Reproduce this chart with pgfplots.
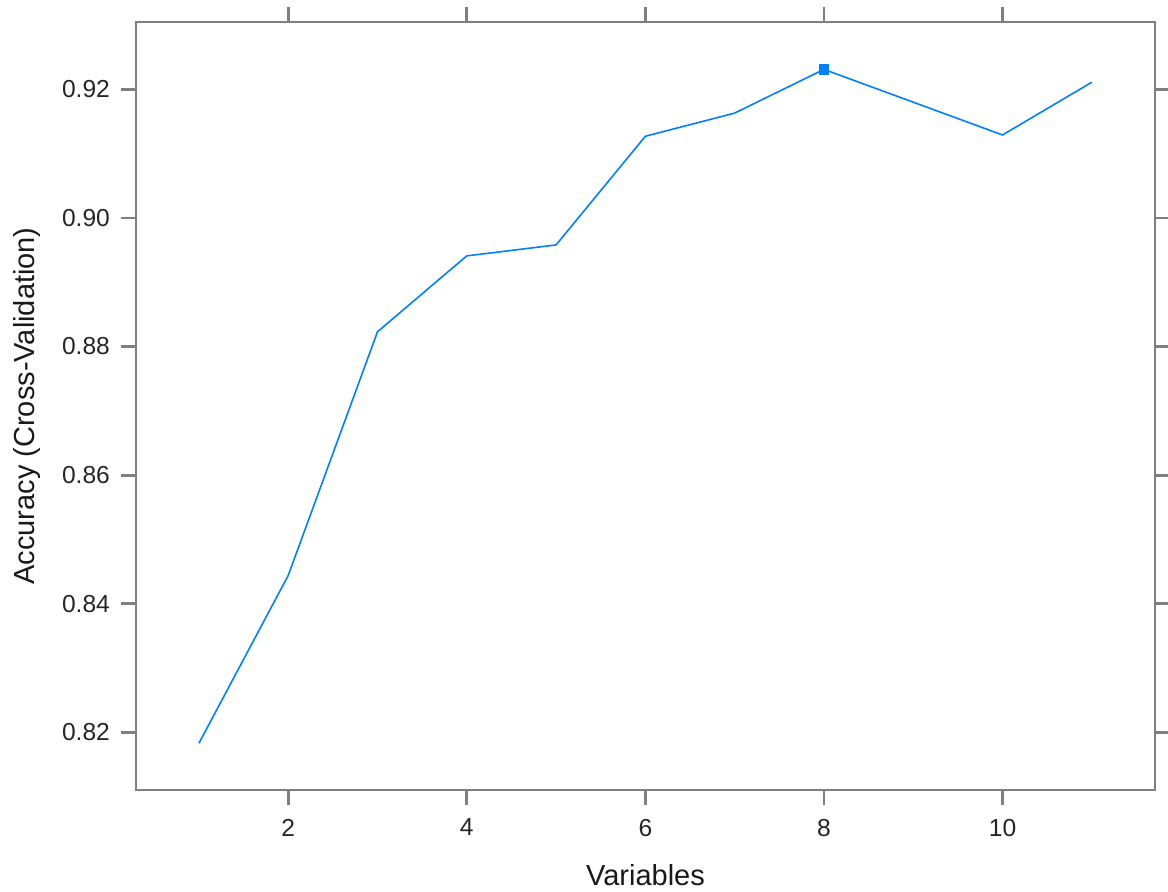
\documentclass[border=0pt]{standalone}
\usepackage{pgfplots}
\pgfplotsset{compat=1.18}
\usepackage{fontspec}
\setmainfont{Liberation Sans}

\definecolor{latblue}{HTML}{0080FF}
\definecolor{framegray}{HTML}{7F7F7F}

\begin{document}
\begin{tikzpicture}
\begin{axis}[
  at={(0,0)}, anchor=south west,
  scale only axis,
  width=509.5pt, height=384pt,
  xmin=0.295, xmax=11.708,
  ymin=0.81103, ymax=0.93047,
  xtick={2,4,6,8,10},
  ytick={0.82,0.84,0.86,0.88,0.90,0.92},
  tick align=outside,
  major tick length=7.5pt,
  axis line style={framegray, line width=1.4pt},
  every tick/.style={framegray, line width=1.4pt},
  tick label style={font=\fontsize{12.3}{14}\selectfont, text=black!85},
  /pgf/number format/assume math mode=true,
  yticklabel style={/pgf/number format/fixed, /pgf/number format/precision=2, /pgf/number format/fixed zerofill, xshift=-2pt},
  xticklabel style={yshift=-3.5pt},
  xticklabel pos=lower, yticklabel pos=left,
  xlabel={Variables},
  ylabel={Accuracy (Cross-Validation)},
  label style={font=\fontsize{14.5}{16}\selectfont, text=black!90},
  xlabel style={at={(axis description cs:0.5,0)}, anchor=base, yshift=-47.5pt},
  ylabel style={at={(axis description cs:-0.107,0.5)}, anchor=center},
  clip=false,
]
\addplot[latblue, line width=0.8pt, mark=none] coordinates {
(1,0.8183)
(2,0.8444)
(3,0.8823)
(4,0.8941)
(5,0.8958)
(6,0.9127)
(7,0.9163)
(8,0.9231)
(10,0.9129)
(11,0.9211)
};
\addplot[only marks, mark=square*, mark size=2.3pt, color=latblue] coordinates {(8,0.9231)};
\end{axis}
\pgfresetboundingbox
\useasboundingbox (-68pt,-50.5pt) rectangle (516pt,395pt);
\end{tikzpicture}
\end{document}
